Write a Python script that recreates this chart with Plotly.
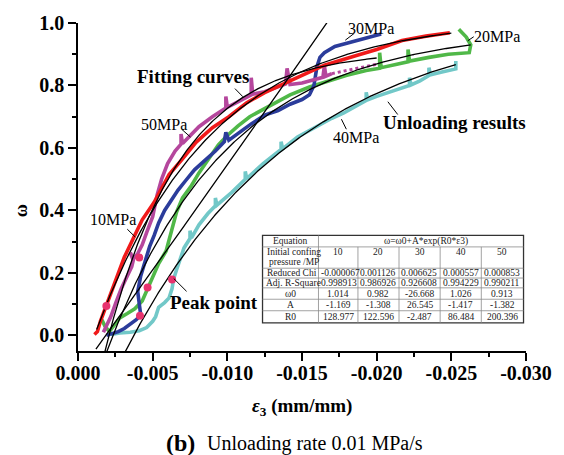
import numpy as np
import plotly.graph_objects as go

SERIF = "Liberation Serif"

# ---- fitted model  w = w0 + A*exp(R0*e3), one row per confining pressure ----
pressure_mpa = [10, 20, 30, 40, 50]
fit_omega0 = [1.014, 0.982, -26.668, 1.026, 0.913]
fit_A = [-1.169, -1.308, 26.545, -1.417, -1.382]
fit_R0 = [128.977, 122.596, -2.487, 86.484, 200.396]
fit_reduced_chi = ["-0.000067", "0.001126", "0.006625", "0.000557", "0.000853"]
fit_adj_r2 = ["0.998913", "0.986926", "0.926608", "0.994229", "0.990211"]
# strain interval over which each fitted curve is drawn
fit_eps_from = [-0.00125, -0.0017, -0.0012, -0.0030, -0.0016]
fit_eps_to = [-0.0250, -0.0263, -0.0180, -0.0253, -0.0200]

# ---- measured unloading curves (lateral strain e3, damage w) ----
eps_10 = [-0.0011, -0.0013, -0.0015, -0.0017, -0.0019, -0.0022, -0.0026, -0.0031, -0.0037, -0.0043,
          -0.0051, -0.0061, -0.0070, -0.0079, -0.0090, -0.0101, -0.0113, -0.0125, -0.0142, -0.0155,
          -0.0165, -0.0187, -0.0200, -0.0217, -0.0233, -0.0249]
w_10 = [0.003, 0.012, 0.045, 0.070, 0.095, 0.140, 0.190, 0.250, 0.310, 0.370,
        0.426, 0.515, 0.565, 0.618, 0.665, 0.700, 0.745, 0.777, 0.815, 0.845,
        0.865, 0.897, 0.915, 0.944, 0.958, 0.969]

eps_20 = [-0.0016, -0.0018, -0.0021, -0.0024, -0.0028, -0.0033, -0.0038, -0.0043, -0.0047, -0.0050,
          -0.0054, -0.0059, -0.0063, -0.0066, -0.0070, -0.0076, -0.0081, -0.0088, -0.0094, -0.0100,
          -0.0107, -0.0115, -0.0122, -0.0134, -0.0142, -0.0155, -0.0165, -0.0180, -0.0193, -0.0202,
          -0.0202, -0.0203, -0.0212, -0.0221, -0.0221, -0.0222, -0.0235, -0.0248, -0.0262, -0.0263,
          -0.0260, -0.0255]
w_20 = [0.050, 0.030, 0.012, 0.030, 0.056, 0.070, 0.085, 0.110, 0.153, 0.190,
        0.230, 0.270, 0.340, 0.395, 0.440, 0.480, 0.520, 0.570, 0.610, 0.640,
        0.670, 0.700, 0.718, 0.750, 0.770, 0.795, 0.810, 0.833, 0.848, 0.855,
        0.905, 0.857, 0.866, 0.876, 0.915, 0.878, 0.890, 0.900, 0.905, 0.930,
        0.955, 0.980]

eps_30 = [-0.0019, -0.0023, -0.0027, -0.0031, -0.0035, -0.0039, -0.0042, -0.0041, -0.0040, -0.0042,
          -0.0045, -0.0048, -0.0051, -0.0054, -0.0058, -0.0062, -0.0067, -0.0072, -0.0078, -0.0085,
          -0.0092, -0.0098, -0.0099, -0.0101, -0.0108, -0.0116, -0.0125, -0.0134, -0.0142, -0.0150,
          -0.0155, -0.0158, -0.0160, -0.0162, -0.0165, -0.0172, -0.0180, -0.0190, -0.0203]
w_30 = [0.000, 0.006, 0.012, 0.022, 0.035, 0.050, 0.065, 0.100, 0.140, 0.190,
        0.240, 0.285, 0.320, 0.360, 0.400, 0.430, 0.465, 0.495, 0.530, 0.560,
        0.590, 0.620, 0.650, 0.625, 0.650, 0.677, 0.705, 0.720, 0.740, 0.755,
        0.770, 0.800, 0.860, 0.890, 0.905, 0.925, 0.935, 0.948, 0.965]

eps_40 = [-0.0022, -0.0028, -0.0035, -0.0041, -0.0046, -0.0050, -0.0052, -0.0054, -0.0058, -0.0061,
          -0.0063, -0.0064, -0.0066, -0.0068, -0.0071, -0.0075, -0.0075, -0.0076, -0.0081, -0.0087,
          -0.0092, -0.0092, -0.0093, -0.0103, -0.0112, -0.0112, -0.0113, -0.0124, -0.0136, -0.0136,
          -0.0137, -0.0147, -0.0160, -0.0170, -0.0178, -0.0186, -0.0193, -0.0193, -0.0194, -0.0200,
          -0.0208, -0.0215, -0.0222, -0.0222, -0.0223, -0.0229, -0.0235, -0.0235, -0.0236, -0.0243,
          -0.0250, -0.0253, -0.0253]
w_40 = [0.003, 0.008, 0.010, 0.015, 0.025, 0.045, 0.060, 0.090, 0.105, 0.120,
        0.150, 0.180, 0.210, 0.240, 0.280, 0.310, 0.335, 0.312, 0.354, 0.390,
        0.415, 0.440, 0.417, 0.458, 0.500, 0.525, 0.502, 0.550, 0.595, 0.620,
        0.597, 0.635, 0.670, 0.695, 0.712, 0.732, 0.752, 0.778, 0.754, 0.765,
        0.777, 0.790, 0.800, 0.825, 0.802, 0.815, 0.832, 0.857, 0.834, 0.842,
        0.850, 0.853, 0.878]

eps_50 = [-0.0017, -0.0019, -0.0022, -0.0025, -0.0029, -0.0033, -0.0036, -0.0037, -0.0035, -0.0037,
          -0.0040, -0.0043, -0.0046, -0.0050, -0.0053, -0.0056, -0.0060, -0.0065, -0.0069, -0.0069,
          -0.0070, -0.0075, -0.0081, -0.0090, -0.0099, -0.0099, -0.0100, -0.0108, -0.0116, -0.0116,
          -0.0117, -0.0125, -0.0134, -0.0139, -0.0140, -0.0142, -0.0150, -0.0158, -0.0164, -0.0165,
          -0.0166, -0.0170]
w_50 = [0.010, 0.030, 0.060, 0.100, 0.150, 0.190, 0.220, 0.240, 0.265, 0.245,
        0.262, 0.290, 0.330, 0.380, 0.450, 0.500, 0.550, 0.590, 0.612, 0.645,
        0.614, 0.640, 0.668, 0.700, 0.728, 0.765, 0.730, 0.750, 0.770, 0.825,
        0.772, 0.780, 0.795, 0.805, 0.855, 0.803, 0.808, 0.818, 0.826, 0.862,
        0.830, 0.838]
# sparse (dotted) end of the 50 MPa record
eps_50_tail = [-0.0170, -0.0180, -0.0190, -0.0200]
w_50_tail = [0.838, 0.848, 0.858, 0.868]

# ---- peak points (10, 20, 30, 40, 50 MPa) ----
peak_eps = [-0.0019, -0.00466, -0.00415, -0.0063, -0.0041]
peak_omega = [0.094, 0.153, 0.063, 0.179, 0.249]

x_tick_labels = ["0.000", "-0.005", "-0.010", "-0.015", "-0.020", "-0.025", "-0.030"]
y_tick_labels = ["0.0", "0.2", "0.4", "0.6", "0.8", "1.0"]

curve_colors = {10: "#F01A1A", 20: "#50B848", 30: "#2B3C9B", 40: "#72C8C8", 50: "#B5479D"}
peak_color = "#E8336E"

fig = go.Figure()

measured = {10: (eps_10, w_10), 20: (eps_20, w_20), 30: (eps_30, w_30),
            40: (eps_40, w_40), 50: (eps_50, w_50)}
for p in [40, 20, 30, 50, 10]:
    e, w = measured[p]
    fig.add_trace(go.Scatter(x=e, y=w, mode="lines", name=f"{p} MPa",
                             line=dict(color=curve_colors[p], width=3.6),
                             hoverinfo="skip"))
fig.add_trace(go.Scatter(x=eps_50_tail, y=w_50_tail, mode="lines",
                         line=dict(color=curve_colors[50], width=3, dash="dot"),
                         hoverinfo="skip"))

# fitted curves drawn from the tabulated parameters
for i, p in enumerate(pressure_mpa):
    e = np.linspace(fit_eps_from[i], fit_eps_to[i], 300)
    w = fit_omega0[i] + fit_A[i] * np.exp(fit_R0[i] * e)
    fig.add_trace(go.Scatter(x=e, y=w, mode="lines", name=f"fit {p} MPa",
                             line=dict(color="black", width=1.3), hoverinfo="skip"))

fig.add_trace(go.Scatter(x=peak_eps, y=peak_omega, mode="markers", name="Peak point",
                         marker=dict(color=peak_color, size=8), hoverinfo="skip"))

x_tick_vals = [float(t) for t in x_tick_labels]
y_tick_vals = [float(t) for t in y_tick_labels]
x_minor = [(a + b) / 2 for a, b in zip(x_tick_vals, x_tick_vals[1:])]
y_minor = [(a + b) / 2 for a, b in zip(y_tick_vals, y_tick_vals[1:])]

axis_common = dict(ticks="outside", ticklen=8, tickwidth=1.6, tickcolor="black",
                   showline=True, linewidth=1.6, linecolor="black",
                   showgrid=False, zeroline=False,
                   tickfont=dict(family=SERIF, size=20, color="black", weight="bold"))

fig.update_layout(
    width=564, height=455,
    margin=dict(l=78, r=32, t=17, b=104),
    paper_bgcolor="white", plot_bgcolor="white",
    showlegend=False,
    font=dict(family=SERIF, color="black"),
    xaxis=dict(range=[0, -0.030], tickmode="array", tickvals=x_tick_vals,
               ticktext=x_tick_labels, ticklabelstandoff=-5,
               minor=dict(tickvals=x_minor, ticks="outside", ticklen=4,
                          tickwidth=1.6, tickcolor="black", showgrid=False),
               **axis_common),
    yaxis=dict(range=[-0.05, 1.0], tickmode="array", tickvals=y_tick_vals,
               ticktext=y_tick_labels,
               minor=dict(tickvals=y_minor, ticks="outside", ticklen=4,
                          tickwidth=1.6, tickcolor="black", showgrid=False),
               **axis_common),
)

annotations = []
shapes = []

# axis titles and caption
annotations.append(dict(text="<b>ω</b>", xref="paper", yref="paper", x=-0.128, y=0.428,
                        xanchor="center", yanchor="middle",
                        textangle=-90, showarrow=False, font=dict(size=18, family=SERIF)))
annotations.append(dict(text="<b><i>ε</i><sub>3</sub> (mm/mm)</b>", xref="paper", yref="paper",
                        x=0.5, y=-0.171, xanchor="center", yanchor="middle",
                        showarrow=False, font=dict(size=19, family=SERIF)))
annotations.append(dict(text="<b>(b)</b>", xref="paper", yref="paper", x=0.265, y=-0.279,
                        xanchor="right", yanchor="middle", showarrow=False,
                        font=dict(size=24, family=SERIF)))
annotations.append(dict(text="Unloading rate 0.01 MPa/s", xref="paper", yref="paper",
                        x=0.283, y=-0.281, xanchor="left", yanchor="middle", showarrow=False,
                        font=dict(size=20, family=SERIF)))

# curve labels with short leader lines (data coordinates)
labels = [
    ("30MPa", -0.01963, 0.984, False, (-0.0185, 0.967, -0.0179, 0.945)),
    ("20MPa", -0.02808, 0.956, False, (-0.0265, 0.956, -0.0261, 0.943)),
    ("Fitting curves", -0.00773, 0.830, True, (-0.01051, 0.790, -0.01104, 0.764)),
    ("50MPa", -0.00575, 0.676, False, (-0.00694, 0.660, -0.00753, 0.635)),
    ("10MPa", -0.00231, 0.371, False, (-0.0033, 0.340, -0.00383, 0.315)),
    ("Peak point", -0.00912, 0.104, True, (-0.00641, 0.182, -0.00727, 0.141)),
    ("40MPa", -0.01863, 0.635, False, (-0.01764, 0.692, -0.01797, 0.660)),
    ("Unloading results", -0.02524, 0.682, True, (-0.02075, 0.748, -0.02141, 0.707)),
]
for text, lx, ly, bold, (x0, y0, x1, y1) in labels:
    annotations.append(dict(text=f"<b>{text}</b>" if bold else text, x=lx, y=ly,
                            xref="x", yref="y", xanchor="center", yanchor="middle",
                            showarrow=False,
                            font=dict(size=19 if bold else 16, family=SERIF, color="black")))
    shapes.append(dict(type="line", xref="x", yref="y", x0=x0, y0=y0, x1=x1, y1=y1,
                       line=dict(color="black", width=1)))

# ---- parameter table inset (pixel layout -> paper coordinates) ----
def px_x(px):
    return (px - 78) / 454


def px_y(py):
    return (351 - py) / 334


col_edges = [265, 321.7, 361.7, 403.3, 445, 486.7, 529.5]
row_edges = [233.3, 245, 266.7, 276.7, 286.7, 298.3, 310, 322.3]
TF = dict(family=SERIF, size=9.5, color="#222222")

shapes.append(dict(type="rect", xref="paper", yref="paper",
                   x0=px_x(col_edges[0]), x1=px_x(col_edges[-1]),
                   y0=px_y(row_edges[-1]), y1=px_y(row_edges[0]),
                   fillcolor="white", line=dict(color="#333333", width=1.3), layer="above"))
for ry in row_edges[1:-1]:
    shapes.append(dict(type="line", xref="paper", yref="paper",
                       x0=px_x(col_edges[0]), x1=px_x(col_edges[-1]), y0=px_y(ry), y1=px_y(ry),
                       line=dict(color="#8a8a8a", width=0.8), layer="above"))
for j, cx in enumerate(col_edges[1:-1]):
    top = row_edges[0] if j == 0 else row_edges[1]
    shapes.append(dict(type="line", xref="paper", yref="paper",
                       x0=px_x(cx), x1=px_x(cx), y0=px_y(top), y1=px_y(row_edges[-1]),
                       line=dict(color="#8a8a8a", width=0.8), layer="above"))


def cell_text(text, px, py, xanchor="center"):
    annotations.append(dict(text=text, xref="paper", yref="paper", x=px_x(px), y=px_y(py),
                            xanchor=xanchor, yanchor="middle", showarrow=False, font=TF))


def row_mid(r):
    return (row_edges[r] + row_edges[r + 1]) / 2


def col_mid(c):
    return (col_edges[c] + col_edges[c + 1]) / 2


cell_text("Equation", col_mid(0), row_mid(0))
cell_text("ω=ω0+A*exp(R0*ε3)", (col_edges[1] + col_edges[-1]) / 2 + 5, row_mid(0))
cell_text("Initial confing", col_edges[0] + 2, row_edges[1] + 5.5, xanchor="left")
cell_text("pressure /MP", col_edges[0] + 5, row_edges[1] + 15.5, xanchor="left")
for c, p in enumerate(pressure_mpa):
    cell_text(str(p), col_mid(c + 1), row_edges[1] + 5.5)

cell_text("Reduced Chi", col_edges[0] + 2, row_mid(2), xanchor="left")
cell_text("Adj. R-Square", col_edges[0] + 1, row_mid(3), xanchor="left")
for c in range(5):
    cell_text(fit_reduced_chi[c], col_edges[c + 1] + 0.5, row_mid(2), xanchor="left")
    cell_text(fit_adj_r2[c], col_edges[c + 1] + 0.5, row_mid(3), xanchor="left")

for r, (name, vals) in enumerate([("ω0", fit_omega0), ("A", fit_A), ("R0", fit_R0)], start=4):
    cell_text(name, col_mid(0), row_mid(r))
    for c, v in enumerate(vals):
        cell_text(f"{v:.3f}", col_mid(c + 1), row_mid(r))

fig.update_layout(annotations=annotations, shapes=shapes)

fig.write_html("out.html")
